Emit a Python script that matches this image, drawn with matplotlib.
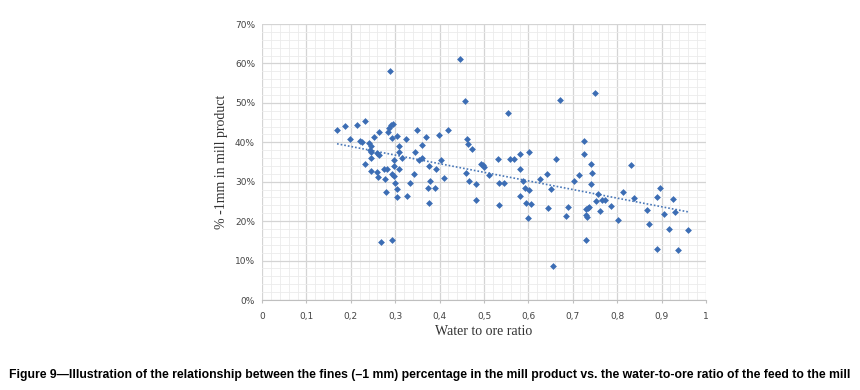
import numpy as np
import matplotlib
matplotlib.use("Agg")
import matplotlib.pyplot as plt
from matplotlib.ticker import MultipleLocator, FuncFormatter

water_to_ore = [
    0.169, 0.186, 0.199, 0.214, 0.220, 0.226, 0.232, 0.232, 0.240, 0.243,
    0.245, 0.245, 0.246, 0.246, 0.252, 0.260, 0.260, 0.261, 0.263, 0.264,
    0.267, 0.274, 0.277, 0.279, 0.281, 0.283, 0.287, 0.289, 0.291, 0.293,
    0.293, 0.293, 0.296, 0.297, 0.297, 0.298, 0.300, 0.305, 0.305, 0.305,
    0.308, 0.308, 0.308, 0.315, 0.325, 0.327, 0.334, 0.342, 0.345, 0.348,
    0.354, 0.360, 0.360, 0.369, 0.373, 0.375, 0.376, 0.378, 0.390, 0.392,
    0.399, 0.403, 0.411, 0.419, 0.447, 0.457, 0.460, 0.461, 0.463, 0.467,
    0.474, 0.482, 0.483, 0.494, 0.497, 0.500, 0.512, 0.531, 0.533, 0.534,
    0.546, 0.553, 0.558, 0.567, 0.581, 0.582, 0.582, 0.588, 0.593, 0.594,
    0.600, 0.602, 0.602, 0.606, 0.625, 0.642, 0.645, 0.652, 0.655, 0.663,
    0.671, 0.685, 0.689, 0.703, 0.713, 0.725, 0.725, 0.729, 0.730, 0.730,
    0.733, 0.734, 0.737, 0.740, 0.741, 0.743, 0.750, 0.752, 0.757, 0.762,
    0.765, 0.772, 0.786, 0.801, 0.813, 0.830, 0.838, 0.866, 0.871, 0.889,
    0.890, 0.896, 0.906, 0.916, 0.926, 0.930, 0.938, 0.960,
]
fines_pct = [
    43.2, 44.2, 40.9, 44.3, 40.2, 40.1, 45.3, 34.4, 39.9, 38.1,
    37.5, 36.0, 39.0, 32.7, 41.3, 37.4, 32.5, 31.3, 42.6, 36.9,
    14.7, 33.3, 30.8, 27.3, 33.2, 42.6, 43.5, 58.1, 44.3, 41.0,
    32.0, 15.2, 44.6, 35.4, 33.9, 31.4, 29.6, 41.6, 28.1, 26.2,
    39.0, 37.6, 33.3, 36.1, 40.8, 26.5, 29.7, 31.9, 37.5, 43.0,
    35.5, 39.2, 35.9, 41.4, 28.5, 34.1, 24.7, 30.1, 28.4, 33.1,
    41.9, 35.5, 31.0, 43.1, 61.2, 50.5, 32.1, 40.9, 39.6, 30.3,
    38.4, 29.5, 25.4, 34.5, 34.2, 33.7, 31.6, 35.8, 29.8, 24.0,
    29.6, 47.5, 35.8, 35.8, 37.0, 26.3, 33.1, 30.3, 28.3, 24.6,
    20.7, 37.5, 28.0, 24.4, 30.8, 31.9, 23.4, 28.1, 8.5, 35.8,
    50.8, 21.3, 23.7, 30.2, 31.7, 40.3, 37.1, 21.6, 23.1, 15.1,
    21.1, 23.4, 23.6, 29.5, 34.4, 32.2, 52.4, 25.2, 27.0, 22.5,
    25.3, 25.3, 23.8, 20.3, 27.4, 34.2, 25.9, 22.9, 19.3, 26.0,
    13.0, 28.3, 21.8, 18.1, 25.5, 22.4, 12.7, 17.8,
]

x = np.array(water_to_ore)
y = np.array(fines_pct)

fig = plt.figure(figsize=(8.6, 3.9), dpi=100)
ax = fig.add_axes([262/860, (390-300)/390, (706-262)/860, (300-24)/390])

ax.set_xlim(0, 1)
ax.set_ylim(0, 70)
ax.xaxis.set_major_locator(MultipleLocator(0.1))
ax.xaxis.set_minor_locator(MultipleLocator(0.02))
ax.yaxis.set_major_locator(MultipleLocator(10))
ax.yaxis.set_minor_locator(MultipleLocator(2))
ax.grid(which='major', color='#d4d4d4', linewidth=0.9)
ax.grid(which='minor', color='#ebebeb', linewidth=0.6)
ax.set_axisbelow(True)
for s in ['top', 'right', 'left']:
    ax.spines[s].set_visible(False)
ax.spines['bottom'].set_color('#bfbfbf')
ax.spines['bottom'].set_linewidth(0.8)

def xfmt(v, pos):
    if abs(v) < 1e-9:
        return '0'
    if abs(v - 1) < 1e-9:
        return '1'
    return f'{v:.1f}'.replace('.', ',')

ax.xaxis.set_major_formatter(FuncFormatter(xfmt))
ax.yaxis.set_major_formatter(FuncFormatter(lambda v, p: f'{int(round(v))}%'))
ax.tick_params(which='both', length=0, labelsize=6.5, colors='#444444', pad=5)
ax.tick_params(axis='x', which='major', length=2.5, color='#bfbfbf', pad=6)

ax.scatter(x, y, s=12, marker='D', color='#3c6db4', zorder=3, linewidths=0)

coef = np.polyfit(x, y, 1)
xs = np.array([x.min(), x.max()])
ax.plot(xs, np.polyval(coef, xs), linestyle=(0, (1, 1.2)), color='#4a78b8',
        linewidth=1.2, zorder=2)

ax.set_xlabel('Water to ore ratio', family='Liberation Serif', fontsize=10,
              color='#333333', labelpad=3)
ax.set_ylabel('% -1mm in mill product', family='Liberation Serif', fontsize=10,
              color='#333333', labelpad=5)

fig.text(0.5, (390-375)/390,
         'Figure 9\u2014Illustration of the relationship between the fines (\u20131 mm) percentage in the mill product vs. the water-to-ore ratio of the feed to the mill',
         ha='center', va='center', fontsize=8.8, fontweight='bold',
         family=['Liberation Sans Narrow', 'Liberation Sans', 'DejaVu Sans'])

fig.savefig('out.png', dpi=100)
